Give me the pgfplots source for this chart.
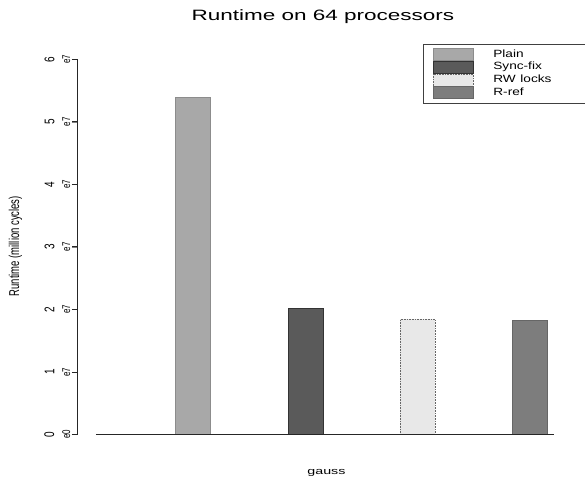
\documentclass[border=0pt]{standalone}
\usepackage{fontspec}
\setmainfont{Liberation Sans}
\usepackage{graphicx}
\usepackage{pgfplots}
\pgfplotsset{compat=1.18}
\definecolor{cPlain}{HTML}{A8A8A8}
\definecolor{cSync}{HTML}{5A5A5A}
\definecolor{cRW}{HTML}{E8E8E8}
\definecolor{cRref}{HTML}{7D7D7D}
\newcommand{\wide}[1]{\scalebox{1.5}[1]{#1}}
\newcommand{\yl}[2]{\raisebox{-.5\height}{\rotatebox{90}{\scalebox{1}[1.4]{\fontsize{10}{10}\selectfont #1}}}\hspace{8pt}\raisebox{-.5\height}{\rotatebox{90}{\scalebox{1}[1.4]{\fontsize{8}{8}\selectfont #2}}}}
\pgfplotsset{mybar/.style={ybar, bar width=35pt, bar shift=0pt, line width=0.6pt}}
\begin{document}
\begin{tikzpicture}
\useasboundingbox (0,0) rectangle (585pt,484pt);
\begin{axis}[
  at={(77.5pt,49.5pt)}, anchor=south west,
  scale only axis, width=508pt, height=375pt,
  xmin=-0.027, xmax=4.493, ymin=0, ymax=6,
  hide x axis,
  axis y line*=left,
  ytick={0,1,2,3,4,5,6},
  yticklabels={\yl{0}{e0},\yl{1}{e7},\yl{2}{e7},\yl{3}{e7},\yl{4}{e7},\yl{5}{e7},\yl{6}{e7}},
  yticklabel style={anchor=east, inner sep=1pt},
  tick align=outside,
  major tick length=6pt,
  title={\fontsize{15}{15}\selectfont\wide{Runtime on 64 processors}},
  title style={at={(0.483,1.099)}, anchor=center, inner sep=0pt},
  ylabel={\scalebox{1}[1.5]{\fontsize{9.5}{9.5}\selectfont Runtime (million cycles)}},
  ylabel style={at={(-0.122,0.502)}, anchor=center, inner sep=0pt},
  clip=false,
  legend style={at={(0.681,1.041)}, anchor=north west, draw=black!75, line width=0.6pt,
    inner xsep=9pt, inner ysep=4pt, row sep=0pt, column sep=0pt,
    nodes={inner sep=0pt, text height=8pt, text depth=3pt},
    font=\fontsize{10.5}{10.5}\selectfont, text width=115pt},
  legend cell align=left,
  legend image code/.code={\path[#1] (0pt,-6pt) rectangle (40pt,6pt);},
]
\addplot[mybar, fill=cPlain, draw=black!45] coordinates {(1,5.40)};
\addlegendentry{\hspace{20pt}\scalebox{1.3}[1]{Plain}}
\addplot[mybar, fill=cSync, draw=black!80] coordinates {(2,2.02)};
\addlegendentry{\hspace{20pt}\scalebox{1.3}[1]{Sync-fix}}
\addplot[mybar, fill=cRW, draw=black!60, densely dotted] coordinates {(3,1.84)};
\addlegendentry{\hspace{20pt}\scalebox{1.3}[1]{RW locks}}
\addplot[mybar, fill=cRref, draw=black!60] coordinates {(4,1.82)};
\addlegendentry{\hspace{20pt}\scalebox{1.3}[1]{R-ref}}
\draw[black!85, line width=0.8pt] (axis cs:0.137,0) -- (axis cs:4.212,0);
\fill[black!85] ([xshift=-0.5pt,yshift=-0.5pt]axis cs:-0.027,0) rectangle ([xshift=0.5pt,yshift=0.5pt]axis cs:-0.027,6);
\pgfplotsinvokeforeach{0,1,2,3,4,5,6}{\fill[black!85] ([xshift=-6pt,yshift=-0.5pt]axis cs:-0.027,#1) rectangle ([yshift=0.5pt]axis cs:-0.027,#1);}
\node[inner sep=0pt] at (rel axis cs:0.49,-0.103) {\fontsize{9.5}{9.5}\selectfont\wide{gauss}};
\end{axis}
\end{tikzpicture}
\end{document}
